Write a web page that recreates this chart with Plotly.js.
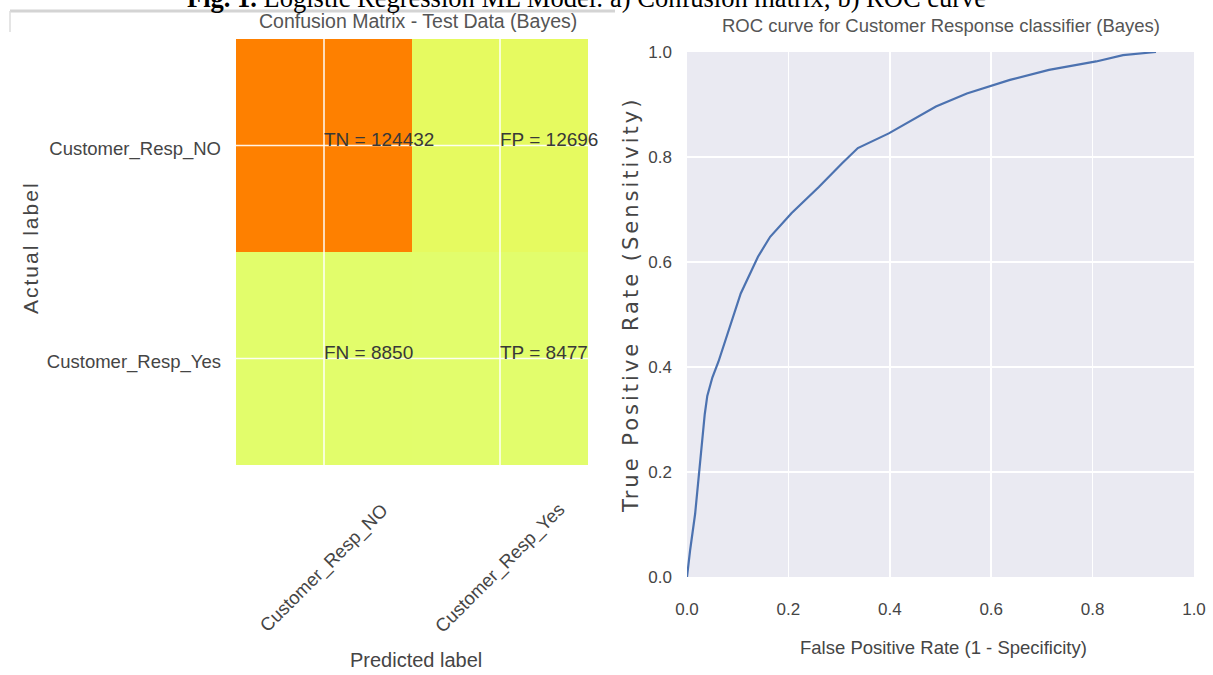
<!DOCTYPE html>
<html>
<head>
<meta charset="utf-8">
<script src="https://cdn.plot.ly/plotly-3.0.1.min.js"></script>
<style>
  html, body { margin: 0; padding: 0; background: #ffffff; }
  #chart { width: 1213px; height: 675px; }
</style>
</head>
<body>
<div id="chart"></div>
<script>
// ---------------- data ----------------
const predictedLabels = ["Customer_Resp_NO", "Customer_Resp_Yes"];
const actualLabels = ["Customer_Resp_NO", "Customer_Resp_Yes"];
const confusionValues = [
  [124432, 12696],
  [8850, 8477]
];
const cellCodes = [
  ["TN", "FP"],
  ["FN", "TP"]
];
const fpr = [0.000, 0.006, 0.016, 0.026, 0.035, 0.040, 0.050, 0.062, 0.072, 0.085,
             0.106, 0.140, 0.164, 0.206, 0.260, 0.306, 0.337, 0.398, 0.445, 0.491,
             0.552, 0.637, 0.714, 0.807, 0.860, 0.907, 0.925];
const tpr = [0.000, 0.050, 0.120, 0.220, 0.310, 0.345, 0.380, 0.410, 0.440, 0.475,
             0.540, 0.610, 0.648, 0.693, 0.743, 0.788, 0.817, 0.845, 0.870, 0.896,
             0.921, 0.947, 0.966, 0.982, 0.994, 0.998, 1.000];
const rocTicks = [0, 0.2, 0.4, 0.6, 0.8, 1.0];

const captionBold = "Fig. 1.";
const captionRest = " Logistic Regression ML Model: a) Confusion matrix; b) ROC curve";
const cmTitle = "Confusion Matrix - Test Data (Bayes)";
const cmXTitle = "Predicted label";
const cmYTitle = "Actual label";
const rocTitle = "ROC curve for Customer Response classifier (Bayes)";
const rocXTitle = "False Positive Rate (1 - Specificity)";
const rocYTitle = "True Positive Rate (Sensitivity)";

// "Wistia"-like colormap (low end matched to the picture)
const wistia = [
  [0.00, "rgb(226,253,108)"],
  [0.25, "rgb(255,232,26)"],
  [0.50, "rgb(255,189,0)"],
  [0.75, "rgb(255,160,0)"],
  [1.00, "rgb(254,128,0)"]
];

// ---------------- layout helpers ----------------
const W = 1213, H = 675;
const px = v => v / W;
const py = v => 1 - v / H;
const SANS = "Liberation Sans, Arial, sans-serif";
const labelColor = "#454545";

const traces = [
  {
    type: "heatmap",
    x: predictedLabels,
    y: actualLabels,
    z: confusionValues,
    colorscale: wistia,
    showscale: false,
    hoverinfo: "skip",
    xaxis: "x",
    yaxis: "y"
  },
  {
    type: "scatter",
    mode: "lines",
    x: fpr,
    y: tpr,
    line: { color: "#4C72B0", width: 2.2 },
    hoverinfo: "skip",
    xaxis: "x2",
    yaxis: "y2"
  }
];

const annotations = [];
// cell texts
for (let i = 0; i < actualLabels.length; i++) {
  for (let j = 0; j < predictedLabels.length; j++) {
    annotations.push({
      xref: "x", yref: "y",
      x: predictedLabels[j], y: actualLabels[i],
      text: cellCodes[i][j] + " = " + confusionValues[i][j],
      showarrow: false, xanchor: "left", yanchor: "bottom",
      xshift: -2, yshift: -6,
      font: { family: SANS, size: 19, color: "#383838" }
    });
  }
}
// rotated x tick labels of the confusion matrix
predictedLabels.forEach(lab => {
  annotations.push({
    xref: "x", yref: "paper",
    x: lab, y: py(568),
    text: lab, textangle: -45,
    showarrow: false, xanchor: "center", yanchor: "middle",
    font: { family: SANS, size: 18.5, color: labelColor }
  });
});
// titles
annotations.push(
  { xref: "paper", yref: "paper", x: px(185), y: py(15), xanchor: "left", yanchor: "bottom",
    showarrow: false, text: "<b>" + captionBold + "</b>" + captionRest,
    font: { family: "Liberation Serif, Times New Roman, serif", size: 26.5, color: "#000000" } },
  { xref: "paper", yref: "paper", x: px(418), y: py(21), xanchor: "center", yanchor: "middle",
    showarrow: false, text: cmTitle,
    font: { family: SANS, size: 19.5, color: "#555555" } },
  { xref: "paper", yref: "paper", x: px(416), y: py(660), xanchor: "center", yanchor: "middle",
    showarrow: false, text: cmXTitle,
    font: { family: SANS, size: 20, color: labelColor } },
  { xref: "paper", yref: "paper", x: px(30), y: py(248), xanchor: "center", yanchor: "middle",
    showarrow: false, textangle: -90,
    text: '<span style="letter-spacing:2px">' + cmYTitle + '</span>',
    font: { family: SANS, size: 21, color: labelColor } },
  { xref: "paper", yref: "paper", x: px(940.5), y: py(26), xanchor: "center", yanchor: "middle",
    showarrow: false, text: rocTitle,
    font: { family: SANS, size: 18.5, color: "#555555" } },
  { xref: "paper", yref: "paper", x: px(943), y: py(647), xanchor: "center", yanchor: "middle",
    showarrow: false, text: rocXTitle,
    font: { family: SANS, size: 18.5, color: labelColor } },
  { xref: "paper", yref: "paper", x: px(631), y: py(305), xanchor: "center", yanchor: "middle",
    showarrow: false, textangle: -90,
    text: '<span style="letter-spacing:3px">' + rocYTitle + '</span>',
    font: { family: "DejaVu Sans, sans-serif", size: 21, color: labelColor } }
);

const shapes = [
  // ROC background (seaborn darkgrid)
  { type: "rect", xref: "x2 domain", yref: "y2 domain", x0: 0, x1: 1, y0: 0, y1: 1,
    fillcolor: "#EAEAF2", line: { width: 0 }, layer: "below" },
  // screenshot frame line at top-left
  { type: "line", xref: "paper", yref: "paper", x0: px(10), x1: px(615), y0: py(11), y1: py(11),
    line: { color: "#d4d4d4", width: 3 }, layer: "above" },
  { type: "line", xref: "paper", yref: "paper", x0: px(10), x1: px(10), y0: py(11), y1: py(32),
    line: { color: "#dddddd", width: 1.5 }, layer: "above" }
];
// white grid lines over the confusion matrix, at the category centres
predictedLabels.forEach((lab, j) => {
  shapes.push({ type: "line", xref: "x", yref: "y domain", x0: j, x1: j, y0: 0, y1: 1,
    line: { color: "rgba(255,255,255,0.9)", width: 1.6 }, layer: "above" });
});
actualLabels.forEach((lab, i) => {
  shapes.push({ type: "line", xref: "x domain", yref: "y", x0: 0, x1: 1, y0: i, y1: i,
    line: { color: "rgba(255,255,255,0.9)", width: 1.6 }, layer: "above" });
});

const layout = {
  width: W, height: H,
  margin: { l: 0, r: 0, t: 0, b: 0, pad: 0 },
  paper_bgcolor: "#ffffff",
  plot_bgcolor: "#ffffff",
  showlegend: false,
  xaxis: {
    domain: [px(236), px(600)], anchor: "y", type: "category",
    showticklabels: false, showgrid: false, zeroline: false, showline: false, ticks: "",
    automargin: false, fixedrange: true
  },
  yaxis: {
    domain: [py(465), py(39)], anchor: "x", type: "category", autorange: "reversed",
    showgrid: false, zeroline: false, showline: false, ticks: "",
    ticklabelstandoff: 14, ticklabelshift: -3,
    tickfont: { family: SANS, size: 18.5, color: labelColor },
    automargin: false, fixedrange: true
  },
  xaxis2: {
    domain: [px(687), px(1194)], anchor: "y2", range: [0, 1],
    tickvals: rocTicks, tickformat: ".1f",
    showgrid: true, gridcolor: "#ffffff", gridwidth: 1.6,
    zeroline: false, showline: false, ticks: "",
    ticklabelstandoff: 20,
    tickfont: { family: SANS, size: 17, color: labelColor },
    automargin: false, fixedrange: true
  },
  yaxis2: {
    domain: [py(577), py(52)], anchor: "x2", range: [0, 1],
    tickvals: rocTicks, tickformat: ".1f",
    showgrid: true, gridcolor: "#ffffff", gridwidth: 1.6,
    zeroline: false, showline: false, ticks: "",
    ticklabelstandoff: 14,
    tickfont: { family: SANS, size: 17, color: labelColor },
    automargin: false, fixedrange: true
  },
  annotations: annotations,
  shapes: shapes
};

Plotly.newPlot("chart", traces, layout, { displayModeBar: false, staticPlot: true });
</script>
</body>
</html>
